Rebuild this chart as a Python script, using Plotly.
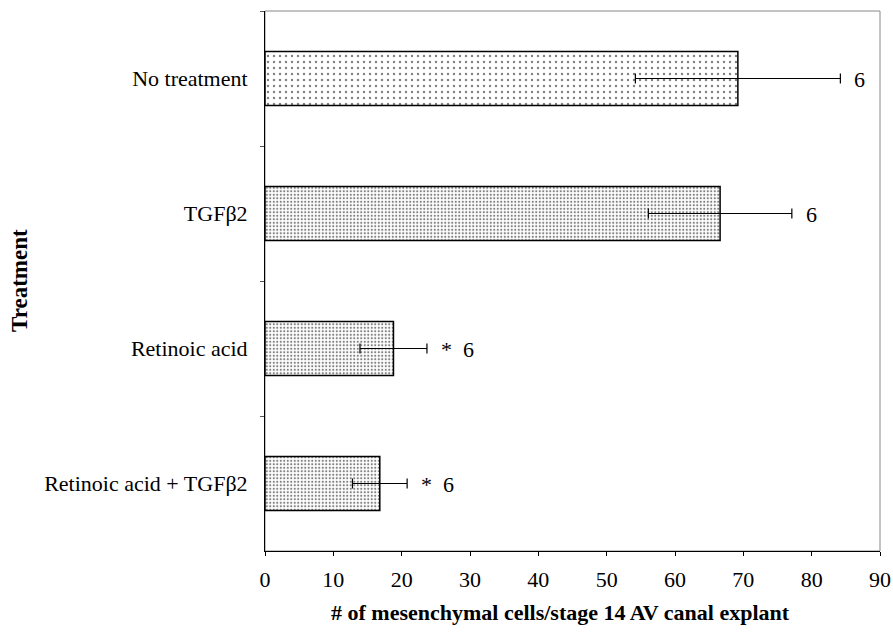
import plotly.graph_objects as go

categories = ["No treatment", "TGFβ2", "Retinoic acid", "Retinoic acid + TGFβ2"]
means = [69.2, 66.6, 18.8, 16.8]
errors = [15.0, 10.5, 4.9, 4.0]
labels = ["6", "6", "*  6", "*  6"]
patterns = [(".", 6, 0.12), (".", 3.5, 0.3), (".", 3.5, 0.3), (".", 3.5, 0.3)]
xticks = [0, 10, 20, 30, 40, 50, 60, 70, 80, 90]

SERIF = "Liberation Serif, Times New Roman, serif"

fig = go.Figure()
for cat, m, e, (shp, sz, sol) in zip(categories, means, errors, patterns):
    fig.add_trace(go.Bar(
        y=[cat], x=[m], orientation="h", width=0.4,
        marker=dict(color="white", line=dict(color="black", width=1.5),
                    pattern=dict(shape=shp, size=sz, solidity=sol,
                                 fgcolor="black", bgcolor="white", fillmode="overlay")),
        error_x=dict(type="data", array=[e], visible=True, color="black",
                     thickness=1.2, width=5),
        showlegend=False,
    ))

for cat, m, e, lab in zip(categories, means, errors, labels):
    fig.add_annotation(x=m + e, y=cat, text=lab, showarrow=False,
                       xanchor="left", xshift=12, yshift=-1,
                       font=dict(family=SERIF, size=22, color="black"))

fig.add_shape(type="rect", xref="paper", yref="paper", x0=0, y0=0, x1=1, y1=1,
              line=dict(color="#888888", width=1), layer="below")

fig.add_annotation(xref="paper", yref="paper", x=-0.40, y=0.5, text="<b>Treatment</b>",
                   textangle=-90, showarrow=False, xanchor="center", yanchor="middle",
                   font=dict(family=SERIF, size=23, color="black"))
fig.add_annotation(xref="paper", yref="paper", x=0.48, y=-0.087, text="<b># of mesenchymal cells/stage 14 AV canal explant</b>",
                   showarrow=False, xanchor="center", yanchor="top",
                   font=dict(family=SERIF, size=22, color="black"))

fig.update_layout(
    width=893, height=637,
    margin=dict(l=265, r=13, t=11, b=86, autoexpand=False),
    plot_bgcolor="white", paper_bgcolor="white",
    font=dict(family=SERIF, size=21, color="black"),
    xaxis=dict(range=[0, 90], tickvals=xticks, ticktext=[str(v) for v in xticks],
               showgrid=False, zeroline=False, showline=True, linecolor="black", linewidth=1,
               ticks="outside", ticklen=4, tickcolor="black", ticklabelstandoff=5,
               tickfont=dict(family=SERIF, size=22)),
    yaxis=dict(categoryorder="array", categoryarray=categories, autorange="reversed",
               showgrid=False, zeroline=False, showline=True, linecolor="black", linewidth=1,
               ticks="outside", ticklen=4, tickcolor="#555555", tickson="boundaries",
               ticklabelstandoff=12, tickfont=dict(family=SERIF, size=22)),
)

fig.write_html("out.html", config={"displayModeBar": False},
               post_script="document.body.style.margin='0';document.body.style.overflow='hidden';")
